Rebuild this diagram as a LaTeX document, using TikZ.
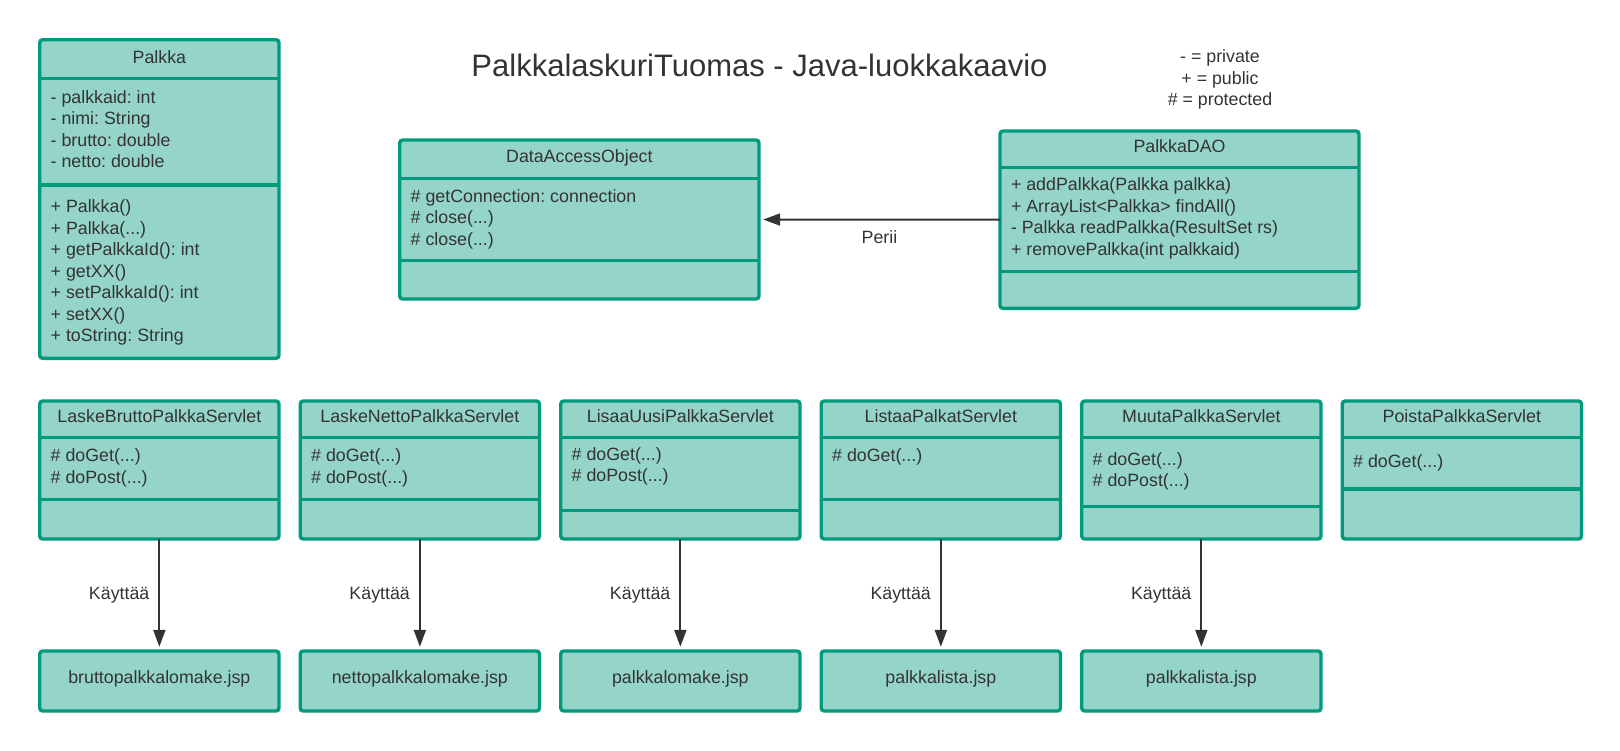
\documentclass[tikz,border=0pt]{standalone}
\usepackage{fontspec}
\setmainfont{Liberation Sans}
\usetikzlibrary{arrows.meta}
\definecolor{luokkatausta}{RGB}{149,213,201}
\definecolor{luokkareuna}{RGB}{0,154,124}
\definecolor{teksti}{RGB}{51,51,51}
\newcommand{\param}{(...)}

\begin{document}
\frenchspacing
\begin{tikzpicture}[x=0.5pt,y=-0.5pt]
\tikzstyle{every node}=[text=teksti,inner sep=0pt,outer sep=0pt,
                        font=\fontsize{8.9}{10.7}\selectfont]
\tikzstyle{luokka}=[draw=luokkareuna,fill=luokkatausta,line width=1.7pt,
                    rounded corners=1.5pt,anchor=north west]
\tikzstyle{erotin}=[draw=luokkareuna,line width=1.7pt]
\tikzstyle{jasen}=[anchor=base west]
\tikzstyle{nimi}=[anchor=base]
\tikzstyle{suhde}=[draw=teksti,line width=1pt,shorten >=2.1pt,
                   -{Triangle[length=8.5pt,width=6pt]}]
\useasboundingbox (0,0) rectangle (1620,750);

\node[nimi,font=\fontsize{15.5}{18}\selectfont] (otsikko) at (759.5,76)
  {PalkkalaskuriTuomas - Java-luokkakaavio};
\foreach \t [count=\i] in {- = private,+ = public,\# = protected}
  \node[nimi] (selite\i) at (1220,{62.5+21.5*(\i-1)}) {\t};

% Palkka
\node[luokka,minimum width=119.65pt,minimum height=159.3pt] (palkka) at (39.7,39.7) {};
\draw[erotin] (palkka.west |- 0,78.3) -- (palkka.east |- 0,78.3);
\draw[erotin] (palkka.west |- 0,185) -- (palkka.east |- 0,185);
\node[nimi] (palkka-nimi) at (palkka.center |- 0,63.3) {Palkka};
\foreach \t [count=\i] in {- palkkaid: int,- nimi: String,- brutto: double,- netto: double}
  \node[jasen] (palkka-a\i) at (50.7,{103.3+21.5*(\i-1)}) {\t};
\foreach \t [count=\i] in {+ Palkka(),+ Palkka\param,+ getPalkkaId(): int,+ getXX(),%
    + setPalkkaId(): int,+ setXX(),+ toString: String}
  \node[jasen] (palkka-m\i) at (50.7,{212.7+21.5*(\i-1)}) {\t};

% DataAccessObject
\node[luokka,minimum width=179.65pt,minimum height=79.5pt] (dao) at (399.7,140) {};
\draw[erotin] (dao.west |- 0,178.3) -- (dao.east |- 0,178.3);
\draw[erotin] (dao.west |- 0,260.7) -- (dao.east |- 0,260.7);
\node[nimi] (dao-nimi) at (dao.center |- 0,162.7) {DataAccessObject};
\foreach \t [count=\i] in {\# getConnection: connection,\# close\param,\# close\param}
  \node[jasen] (dao-m\i) at (410.7,{202+21.5*(\i-1)}) {\t};

% PalkkaDAO
\node[luokka,minimum width=179.5pt,minimum height=88.65pt] (palkkadao) at (1000,131) {};
\draw[erotin] (palkkadao.west |- 0,167.3) -- (palkkadao.east |- 0,167.3);
\draw[erotin] (palkkadao.west |- 0,271.7) -- (palkkadao.east |- 0,271.7);
\node[nimi] (palkkadao-nimi) at (palkkadao.center |- 0,152.7) {PalkkaDAO};
\foreach \t [count=\i] in {+ addPalkka(Palkka palkka),+ ArrayList<Palkka> findAll(),%
    - Palkka readPalkka(ResultSet rs),+ removePalkka(int palkkaid)}
  \node[jasen] (palkkadao-m\i) at (1011,{190.7+21.5*(\i-1)}) {\t};
\draw[suhde] (palkkadao) -- node[midway,below=5.6pt] (perii) {Perii} (dao);

% servletit
\foreach \n/\otsikko/\raja/\jasenet/\yy [count=\i] in {%
    laskebrutto/LaskeBruttoPalkkaServlet/499.3/{\# doGet\param,\# doPost\param}/461.7,%
    laskenetto/LaskeNettoPalkkaServlet/499.3/{\# doGet\param,\# doPost\param}/461.7,%
    lisaauusi/LisaaUusiPalkkaServlet/510.7/{\# doGet\param,\# doPost\param}/460,%
    listaapalkat/ListaaPalkatServlet/499.3/{\# doGet\param}/461.7,%
    muutapalkka/MuutaPalkkaServlet/506.7/{\# doGet\param,\# doPost\param}/465,%
    poistapalkka/PoistaPalkkaServlet/489/{\# doGet\param}/467.3}{
  \pgfmathsetmacro\xx{39.7+260.5*(\i-1)}
  \node[luokka,minimum width=119.65pt,minimum height=69pt] (\n) at (\xx,401) {};
  \draw[erotin] (\n.west |- 0,437.7) -- (\n.east |- 0,437.7);
  \draw[erotin] (\n.west |- 0,\raja) -- (\n.east |- 0,\raja);
  \node[nimi] (\n-nimi) at (\n.center |- 0,422.7) {\otsikko};
  \foreach \t [count=\j] in \jasenet
    \node[jasen] (\n-m\j) at (\xx+11,{\yy+21.5*(\j-1)}) {\t};
}

% jsp-sivut
\foreach \n/\sivu in {laskebrutto/bruttopalkkalomake.jsp,laskenetto/nettopalkkalomake.jsp,%
    lisaauusi/palkkalomake.jsp,listaapalkat/palkkalista.jsp,muutapalkka/palkkalista.jsp}{
  \node[luokka,minimum width=119.65pt,minimum height=30pt] (\n-jsp) at (\n.west |- 0,651) {};
  \node[nimi] (\n-jsp-nimi) at (\n-jsp.center |- 0,683.3) {\sivu};
  \draw[suhde] (\n) -- node[midway,left=5pt] (\n-kayttaa) {Käyttää} (\n-jsp);
}
\end{tikzpicture}
\end{document}
